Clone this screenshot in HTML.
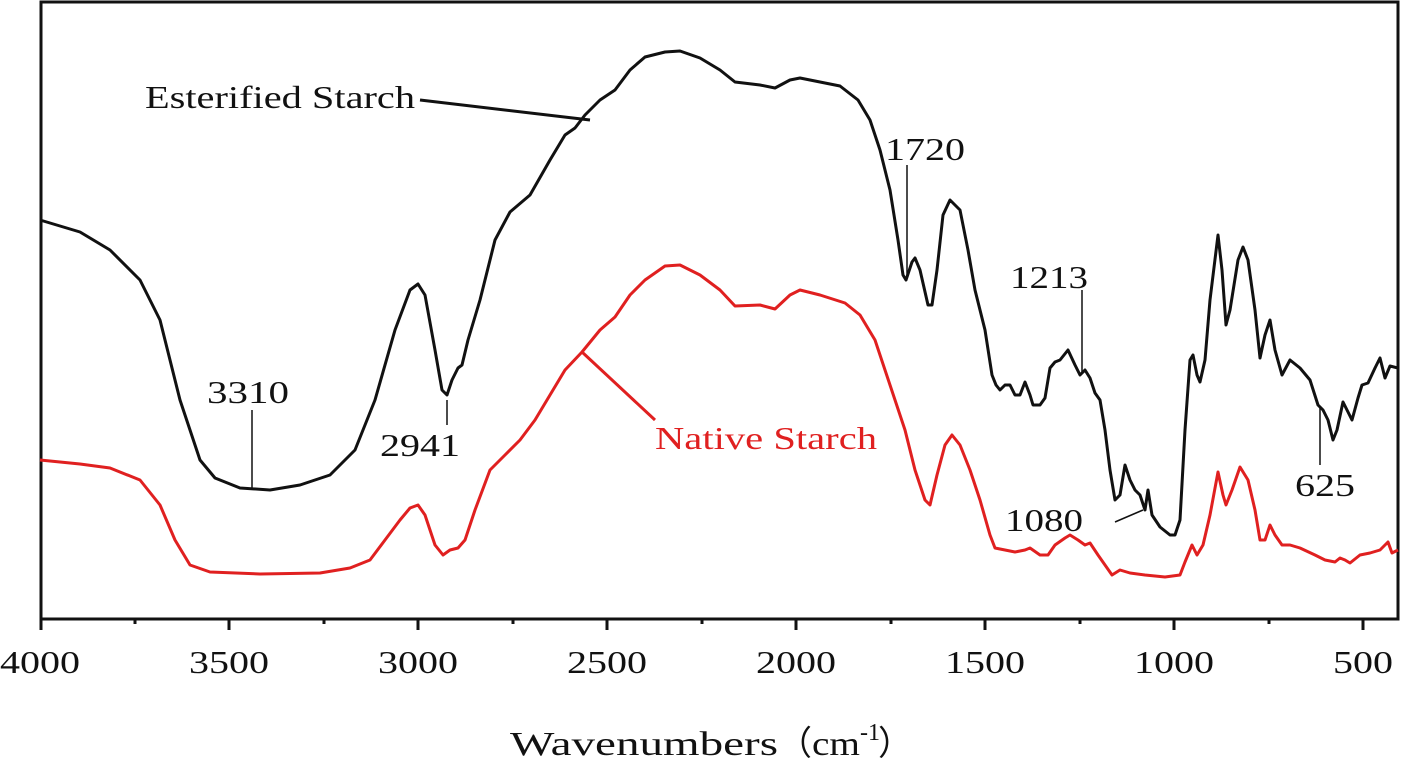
<!DOCTYPE html>
<html><head><style>body{margin:0;background:#fff}svg{display:block}</style></head><body>
<svg width="1402" height="762" xmlns="http://www.w3.org/2000/svg" font-family="Liberation Serif, serif">
<rect x="41" y="2" width="1357" height="617" fill="none" stroke="#111" stroke-width="3"/>
<g stroke="#111" stroke-width="3">
<line x1="41" y1="619" x2="41" y2="630"/><line x1="135" y1="619" x2="135" y2="624"/>
<line x1="229" y1="619" x2="229" y2="630"/><line x1="324" y1="619" x2="324" y2="624"/>
<line x1="418" y1="619" x2="418" y2="630"/><line x1="513" y1="619" x2="513" y2="624"/>
<line x1="607" y1="619" x2="607" y2="630"/><line x1="702" y1="619" x2="702" y2="624"/>
<line x1="796" y1="619" x2="796" y2="630"/><line x1="891" y1="619" x2="891" y2="624"/>
<line x1="985" y1="619" x2="985" y2="630"/><line x1="1080" y1="619" x2="1080" y2="624"/>
<line x1="1174" y1="619" x2="1174" y2="630"/><line x1="1269" y1="619" x2="1269" y2="624"/>
<line x1="1363" y1="619" x2="1363" y2="630"/>
</g>
<g font-size="32" fill="#111" lengthAdjust="spacingAndGlyphs">
<text x="0" y="673" textLength="80" lengthAdjust="spacingAndGlyphs">4000</text>
<text x="189" y="673" textLength="80" lengthAdjust="spacingAndGlyphs">3500</text>
<text x="378" y="673" textLength="80" lengthAdjust="spacingAndGlyphs">3000</text>
<text x="567" y="673" textLength="80" lengthAdjust="spacingAndGlyphs">2500</text>
<text x="756" y="673" textLength="80" lengthAdjust="spacingAndGlyphs">2000</text>
<text x="945" y="673" textLength="80" lengthAdjust="spacingAndGlyphs">1500</text>
<text x="1134" y="673" textLength="80" lengthAdjust="spacingAndGlyphs">1000</text>
<text x="1333" y="673" textLength="60" lengthAdjust="spacingAndGlyphs">500</text>
</g>
<g font-size="34" fill="#111">
<text x="510" y="755" textLength="268" lengthAdjust="spacingAndGlyphs">Wavenumbers</text>
<text x="778" y="755">（</text>
<text x="812" y="755" textLength="48" lengthAdjust="spacingAndGlyphs">cm</text>
<text x="860" y="740" font-size="24">-1</text>
<text x="878" y="755">）</text>
</g>
<polyline fill="none" stroke="#111" stroke-width="3" stroke-linejoin="round" points="40,220 80,232 110,250 140,280 160,320 180,400 200,460 215,478 240,488 270,490 300,485 330,475 355,450 375,400 395,330 410,290 418,284 425,295 435,350 442,390 447,395 452,380 458,368 462,365 468,340 480,300 495,240 510,212 530,195 550,160 565,135 575,128 585,115 600,100 615,90 630,70 645,57 665,52 680,51 700,58 720,70 735,82 760,85 775,88 790,80 800,78 820,82 840,86 858,100 870,120 880,150 890,190 898,240 903,275 906,280 912,262 915,258 920,270 928,305 932,305 937,270 943,215 950,200 960,210 968,250 975,290 985,330 992,375 996,385 1000,390 1005,385 1010,385 1015,395 1020,395 1025,382 1030,395 1033,405 1040,405 1045,398 1050,368 1055,362 1060,360 1068,350 1075,365 1080,375 1085,370 1090,378 1095,393 1100,400 1105,430 1110,470 1115,500 1120,495 1125,465 1130,480 1135,490 1140,495 1145,510 1148,490 1152,515 1160,527 1170,535 1175,535 1180,520 1185,430 1190,360 1193,355 1197,375 1200,382 1205,360 1210,300 1218,235 1222,270 1226,325 1230,310 1238,260 1243,247 1248,260 1255,310 1260,358 1265,335 1270,320 1275,350 1282,375 1290,360 1300,368 1310,380 1318,405 1323,410 1328,420 1333,440 1337,430 1343,402 1348,412 1352,420 1358,398 1362,385 1368,383 1375,368 1380,358 1385,378 1390,366 1398,368"/>
<polyline fill="none" stroke="#e02020" stroke-width="3" stroke-linejoin="round" points="40,460 80,464 110,468 140,480 160,505 175,540 190,565 210,572 260,574 320,573 350,568 370,560 385,540 400,520 410,508 418,505 425,515 435,545 443,555 450,550 458,548 465,540 475,510 490,470 505,455 520,440 535,420 550,395 565,370 582,352 600,330 615,317 630,295 645,280 665,266 680,265 700,275 720,290 735,306 760,305 775,309 790,295 800,290 820,295 845,303 860,315 875,340 890,385 905,430 915,470 925,500 930,505 937,475 945,445 952,435 960,445 970,470 980,500 990,535 995,548 1005,550 1015,552 1025,550 1030,548 1040,555 1048,555 1055,545 1065,538 1070,535 1078,540 1085,545 1090,543 1098,555 1105,565 1112,575 1120,570 1130,573 1145,575 1165,577 1180,575 1185,562 1192,545 1197,555 1203,545 1210,515 1218,472 1223,495 1226,505 1232,490 1240,467 1248,480 1255,510 1260,540 1265,540 1270,525 1275,535 1282,545 1290,545 1300,548 1315,555 1325,560 1335,562 1340,558 1345,560 1350,563 1360,555 1370,553 1380,550 1388,542 1392,553 1398,550"/>
<g stroke="#111" stroke-width="1.5">
<line x1="252" y1="410" x2="252" y2="488"/><line x1="447" y1="400" x2="447" y2="425"/>
<line x1="907" y1="165" x2="907" y2="275"/><line x1="1082" y1="290" x2="1082" y2="373"/>
<line x1="1115" y1="522" x2="1143" y2="510"/><line x1="1320" y1="407" x2="1320" y2="465"/>
</g>
<line x1="420" y1="100" x2="590" y2="120" stroke="#111" stroke-width="3"/>
<line x1="582" y1="352" x2="655" y2="420" stroke="#e02020" stroke-width="3"/>
<g font-size="32" fill="#111">
<text x="145" y="108" textLength="270" lengthAdjust="spacingAndGlyphs">Esterified Starch</text>
<text x="207" y="403" textLength="82" lengthAdjust="spacingAndGlyphs">3310</text>
<text x="380" y="456" textLength="80" lengthAdjust="spacingAndGlyphs">2941</text>
<text x="885" y="160" textLength="80" lengthAdjust="spacingAndGlyphs">1720</text>
<text x="1010" y="288" textLength="78" lengthAdjust="spacingAndGlyphs">1213</text>
<text x="1005" y="531" textLength="78" lengthAdjust="spacingAndGlyphs">1080</text>
<text x="1295" y="496" textLength="60" lengthAdjust="spacingAndGlyphs">625</text>
</g>
<text x="655" y="449" font-size="32" fill="#e02020" textLength="222" lengthAdjust="spacingAndGlyphs">Native Starch</text>
</svg>
</body></html>
